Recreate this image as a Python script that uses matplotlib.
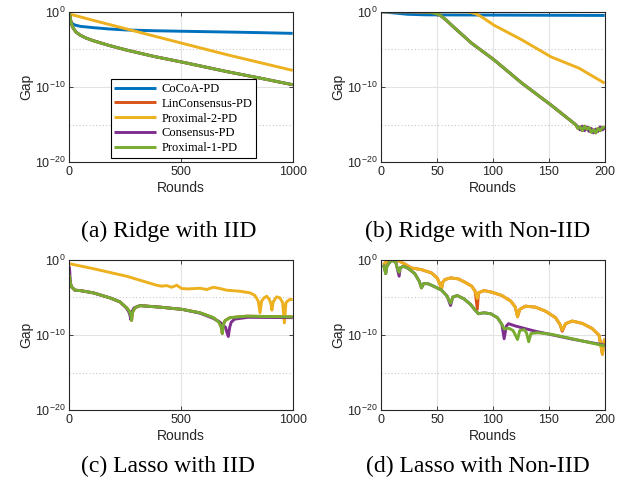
import matplotlib
matplotlib.use("Agg")
import numpy as np
import matplotlib.pyplot as plt
from matplotlib.ticker import FixedLocator, LogFormatterSciNotation, NullFormatter

# colours (MATLAB default order)
C_COCOA = '#0072BD'
C_LIN = '#D95319'
C_PROX2 = '#EDB120'
C_CONS = '#7E2F8E'
C_PROX1 = '#77AC30'

labels = ['CoCoA-PD', 'LinConsensus-PD', 'Proximal-2-PD', 'Consensus-PD', 'Proximal-1-PD']
captions = ['(a) Ridge with IID', '(b) Ridge with Non-IID',
            '(c) Lasso with IID', '(d) Lasso with Non-IID']

# all gap values below are log10(Gap)

# (a) ridge, IID
a_cocoa_r = [0, 5, 10, 25, 50, 107, 180, 257, 380, 506, 704, 850, 1000]
a_cocoa = [-0.8, -1.3, -1.5, -1.77, -1.95, -2.12, -2.3, -2.43, -2.53, -2.6, -2.7, -2.78, -2.88]
a_prox2_r = [0, 107, 257, 506, 704, 1000]
a_prox2 = [-0.3, -1.15, -2.3, -4.2, -5.7, -7.8]
a_prox1_r = [0, 3, 6, 12, 18, 30, 48, 75, 107, 180, 257, 380, 506, 704, 850, 1000]
a_prox1 = [-0.1, -0.6, -1.1, -1.8, -2.2, -2.7, -3.1, -3.5, -3.85, -4.5, -5.1, -5.95, -6.7, -7.95, -8.8, -9.7]
a_lin_r, a_lin = a_prox1_r, a_prox1
a_cons_r, a_cons = a_prox1_r, a_prox1

# (b) ridge, non-IID
b_cocoa_r = [0, 10, 24, 40, 100, 200]
b_cocoa = [0, -0.15, -0.35, -0.42, -0.45, -0.5]
b_prox2_r = [0, 40, 78, 85, 90, 101, 126, 152, 177, 200]
b_prox2 = [0, 0, -0.02, -0.3, -0.7, -1.8, -3.75, -6.0, -7.5, -9.5]
b_prox1_r = [0, 30, 45, 50, 53, 58, 66, 81, 101, 126, 152, 174,
             176, 178, 180, 182, 184, 186, 188, 190, 192, 194, 196, 198, 200]
b_prox1 = [0, 0, -0.1, -0.3, -0.5, -1.1, -2.2, -4.2, -6.4, -9.5, -12.4, -15.0,
           -15.5, -15.3, -15.8, -15.2, -15.6, -15.4, -16.0, -15.7, -16.1, -15.5, -15.8, -15.4, -15.3]
b_cons_r = b_prox1_r
b_cons = [0, 0, -0.1, -0.3, -0.5, -1.1, -2.2, -4.2, -6.4, -9.5, -12.4, -15.0,
          -15.3, -15.7, -15.2, -15.8, -15.3, -15.9, -15.5, -16.1, -15.6, -15.9, -15.3, -15.7, -15.4]
b_lin_r, b_lin = b_prox1_r, b_prox1

# (c) lasso, IID
c_prox2_r = [0, 107, 257, 391, 413, 436, 458, 481, 503, 533, 585, 615, 645, 675, 704, 764,
             809, 831, 846, 854, 861, 872, 884, 896, 903, 907, 913, 928, 943, 955, 963, 970, 985, 1000]
c_prox2 = [-0.53, -1.19, -2.2, -3.39, -3.52, -3.44, -3.66, -3.39, -3.83, -3.88, -3.79, -3.96, -3.66, -3.83, -4.05, -4.19,
           -4.4, -4.75, -5.5, -7.05, -5.5, -5.07, -4.85, -5.3, -5.9, -6.7, -5.6, -4.93, -5.07, -5.7, -8.4, -5.7, -5.3, -5.29]
c_prox1_r = [0, 3, 6, 10, 15, 25, 48, 107, 182, 227, 257, 268, 276, 279, 283, 294, 316, 406,
             506, 585, 645, 670, 680, 685, 690, 697, 719, 794, 1000]
c_prox1 = [-2.0, -2.6, -3.2, -3.6, -3.75, -4.05, -4.1, -4.4, -5.07, -5.6, -6.4, -6.8, -7.4, -8.06, -7.0, -6.4, -6.1, -6.3,
           -6.6, -7.05, -7.7, -8.3, -8.9, -9.8, -8.6, -8.1, -7.7, -7.5, -7.6]
c_cons_r = [0, 2, 4, 6, 10, 15, 25, 48, 107, 182, 227, 255, 266, 272, 275, 279, 290, 316, 406,
            506, 585, 645, 675, 700, 705, 712, 718, 725, 740, 800, 1000]
c_cons = [-0.9, -1.5, -2.6, -3.2, -3.6, -3.75, -4.05, -4.1, -4.4, -5.07, -5.6, -6.4, -6.9, -7.4, -7.95, -7.0, -6.4, -6.1, -6.3,
          -6.6, -7.1, -7.8, -8.3, -9.0, -9.6, -10.2, -9.0, -8.3, -7.9, -7.65, -7.7]
c_lin_r, c_lin = c_prox1_r, c_prox1

# (d) lasso, non-IID
d_prox2_r = [2, 5, 10, 16, 21, 27, 36, 45, 50, 52, 54, 55, 57, 62, 69, 75, 81, 84, 86, 87, 92, 99,
             108, 116, 120, 122, 124, 129, 138, 147, 156, 160, 162, 165, 171, 180, 189, 195, 198, 199, 200]
d_prox2 = [-0.66, -0.22, 0, -0.18, -0.57, -1.1, -1.32, -1.76, -2.42, -3.08, -3.83, -3.0, -2.64, -2.42, -2.55, -3.0,
           -3.52, -4.19, -5.15, -4.4, -4.1, -4.32, -4.76, -5.5, -6.3, -7.58, -6.6, -6.17, -6.3, -6.83, -7.7, -8.6,
           -9.34, -8.5, -8.15, -8.46, -9.16, -10.04, -12.56, -11.2, -10.5]
d_lin_r = d_prox2_r
d_lin = [-0.66, -0.22, 0, -0.18, -0.57, -1.1, -1.32, -1.76, -2.42, -3.08, -3.83, -3.0, -2.64, -2.42, -2.55, -3.0,
         -3.52, -4.19, -6.6, -4.4, -4.1, -4.32, -4.76, -5.5, -6.3, -7.58, -6.6, -6.17, -6.3, -6.83, -7.7, -8.6,
         -9.5, -8.5, -8.15, -8.46, -9.16, -10.04, -12.56, -11.2, -10.5]
d_prox1_r = [2, 4, 5, 8, 10, 13, 14, 16, 17, 20, 24, 30, 34, 36, 38, 42, 48, 54, 59, 62, 64, 68, 74, 80,
             84, 87, 92, 98, 104, 108, 110, 114, 118, 122, 124, 128, 130, 132, 134, 140, 152, 171, 200]
d_prox1 = [-0.66, -1.85, -0.88, -0.26, -0.1, -0.35, -0.97, -1.67, -1.06, -0.88, -1.15, -1.85, -2.86, -3.74, -3.17,
           -3.2, -3.6, -4.05, -4.85, -5.8, -4.97, -4.76, -5.2, -5.95, -6.7, -7.18, -7.05, -7.18, -7.7, -8.6, -9.2,
           -9.1, -9.4, -10.6, -9.4, -9.3, -9.7, -10.9, -9.8, -9.7, -9.9, -10.5, -11.45]
d_cons_r = [2, 4, 5, 8, 10, 13, 14, 16, 17, 20, 24, 30, 34, 36, 38, 42, 48, 54, 59, 62, 64, 68, 74, 80,
            84, 87, 92, 98, 104, 108, 110, 112, 114, 120, 129, 138, 152, 171, 200]
d_cons = [-0.66, -1.85, -0.88, -0.26, -0.1, -0.35, -0.97, -2.2, -1.06, -0.88, -1.15, -1.85, -2.86, -3.74, -3.17,
          -3.2, -3.6, -4.05, -4.85, -6.08, -4.97, -4.76, -5.2, -5.95, -6.7, -7.18, -7.05, -7.18, -7.7, -8.6, -10.5,
          -8.8, -8.5, -8.8, -9.16, -9.5, -9.95, -10.55, -11.35]

panels = [
    dict(xmax=1000, xticks=[0, 500, 1000], cocoa=(a_cocoa_r, a_cocoa), lin=(a_lin_r, a_lin),
         prox2=(a_prox2_r, a_prox2), cons=(a_cons_r, a_cons), prox1=(a_prox1_r, a_prox1)),
    dict(xmax=200, xticks=[0, 50, 100, 150, 200], cocoa=(b_cocoa_r, b_cocoa), lin=(b_lin_r, b_lin),
         prox2=(b_prox2_r, b_prox2), cons=(b_cons_r, b_cons), prox1=(b_prox1_r, b_prox1)),
    dict(xmax=1000, xticks=[0, 500, 1000], cocoa=None, lin=(c_lin_r, c_lin),
         prox2=(c_prox2_r, c_prox2), cons=(c_cons_r, c_cons), prox1=(c_prox1_r, c_prox1)),
    dict(xmax=200, xticks=[0, 50, 100, 150, 200], cocoa=None, lin=(d_lin_r, d_lin),
         prox2=(d_prox2_r, d_prox2), cons=(d_cons_r, d_cons), prox1=(d_prox1_r, d_prox1)),
]

plt.rcParams['font.family'] = ['Liberation Sans', 'DejaVu Sans']
plt.rcParams['mathtext.default'] = 'regular'

AX_COL = '#262626'
fig = plt.figure(figsize=(6.24, 4.91), dpi=100)
boxes = [(0.111, 0.6695), (0.611, 0.6695), (0.111, 0.1644), (0.611, 0.1644)]
cap_pos = [(169, 231), (478, 231), (168, 466), (478, 466)]

for i, p in enumerate(panels):
    ax = fig.add_axes([boxes[i][0], boxes[i][1], 0.358, 0.3067])
    handles = []
    for key, col, lab in [('cocoa', C_COCOA, labels[0]), ('lin', C_LIN, labels[1]),
                          ('prox2', C_PROX2, labels[2]), ('cons', C_CONS, labels[3]),
                          ('prox1', C_PROX1, labels[4])]:
        d = p[key]
        if d is None:
            continue
        r, g = d
        h, = ax.plot(r, 10.0 ** np.array(g), color=col, lw=2.1, label=lab,
                     solid_joinstyle='round', solid_capstyle='butt')
        handles.append(h)
    ax.set_yscale('log')
    ax.set_ylim(1e-20, 1e0)
    ax.set_xlim(0, p['xmax'])
    ax.set_xticks(p['xticks'])
    ax.yaxis.set_major_locator(FixedLocator([1e-20, 1e-10, 1e0]))
    ax.yaxis.set_major_formatter(LogFormatterSciNotation())
    ax.yaxis.set_minor_locator(FixedLocator([1e-15, 1e-5]))
    ax.yaxis.set_minor_formatter(NullFormatter())
    ax.grid(True, which='major', color='#e3e3e3', lw=0.8, ls='-')
    ax.grid(True, which='minor', axis='y', color='#c8c8c8', lw=0.8, ls=(0, (1, 2)))
    ax.set_axisbelow(True)
    ax.tick_params(which='major', direction='in', length=3, width=0.6, colors=AX_COL,
                   labelsize=9, top=True, right=True, pad=3)
    ax.tick_params(which='minor', length=0)
    for s in ax.spines.values():
        s.set_color(AX_COL)
        s.set_linewidth(0.8)
    ax.set_xlabel('Rounds', fontsize=10, color=AX_COL, labelpad=2)
    ax.set_ylabel('Gap', fontsize=10, color=AX_COL, labelpad=1)

    if i == 0:
        leg = ax.legend(handles=handles, loc='lower left', bbox_to_anchor=(0.185, 0.03),
                        prop={'family': 'Liberation Serif', 'size': 9},
                        frameon=True, fancybox=False, edgecolor='k', framealpha=1,
                        handlelength=3.3, handletextpad=0.5, labelspacing=0.22,
                        borderpad=0.3, borderaxespad=0)
        leg.get_frame().set_linewidth(0.8)

    cx, cy = cap_pos[i]
    fig.text(cx / 624, 1 - cy / 491, captions[i], ha='center', va='center',
             family='Liberation Serif', fontsize=17, color='k')

fig.savefig('out.png', dpi=100)
